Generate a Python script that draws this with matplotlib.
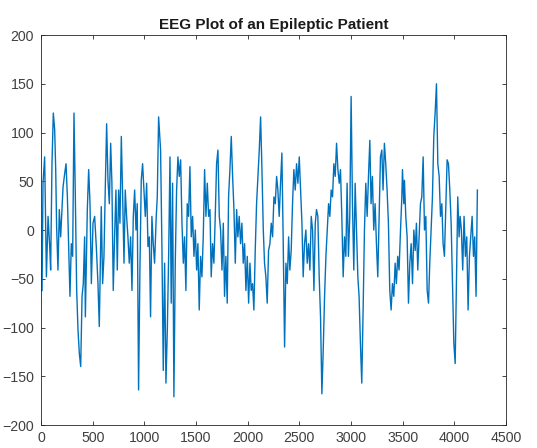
"""EEG trace of an epileptic patient, MATLAB-style single line plot."""

import matplotlib
matplotlib.use("Agg")
import matplotlib.pyplot as plt

# sample index and amplitude
t = [
    10, 19, 35, 52, 68, 84, 93, 106, 119, 132, 142, 151, 164, 177, 190, 213,
    229, 242, 255, 268, 280, 293, 306, 319, 332, 345, 358, 371, 384, 397, 409,
    422, 429, 448, 461, 474, 487, 503, 519, 535, 551, 564,
    583, 596, 609, 622, 635, 648, 661, 674, 686, 699, 712, 725, 738, 751, 764,
    777, 790, 803, 815, 828, 841, 854, 867, 880, 893, 906, 919, 931, 944, 957,
    970, 983, 996, 1009, 1022, 1035, 1048, 1060, 1073, 1086, 1099, 1115, 1125,
    1138, 1151,
    1157, 1170, 1183, 1196, 1209, 1222, 1235, 1248, 1260, 1273, 1286, 1299,
    1312, 1325, 1338, 1351, 1364, 1377, 1389, 1402, 1415, 1428, 1441, 1454,
    1467, 1480, 1493, 1506, 1518, 1531, 1544, 1557, 1570, 1583, 1596, 1609,
    1622, 1635, 1647, 1660, 1673, 1686, 1699, 1712, 1725,
    1738, 1751, 1764, 1776, 1789, 1802, 1815, 1828, 1841, 1854, 1867, 1880,
    1893, 1905, 1918, 1931, 1944, 1957, 1970, 1983, 1996, 2009, 2022, 2034,
    2047, 2060, 2073, 2086, 2099, 2112, 2125, 2138, 2151, 2163, 2176, 2189,
    2202, 2215, 2228, 2241, 2254, 2267, 2280, 2292, 2305,
    2318, 2331, 2344, 2357, 2370, 2383, 2396, 2408, 2421, 2434, 2447, 2460,
    2473, 2486, 2499, 2512, 2525, 2537, 2550, 2563, 2576, 2589, 2602, 2615,
    2628, 2641, 2654, 2666, 2679, 2692, 2705, 2718, 2731, 2744, 2757, 2770,
    2783, 2795, 2808, 2821, 2834, 2847, 2860, 2873, 2886,
    2898, 2911, 2924, 2937, 2950, 2962, 2975, 2988, 3001, 3014, 3027, 3040,
    3053, 3066, 3078, 3091, 3104, 3117, 3130, 3143, 3156, 3169, 3182, 3194,
    3207, 3220, 3233, 3246, 3259, 3272, 3285, 3298, 3310, 3323, 3336, 3349,
    3362, 3375, 3388, 3401, 3414, 3427, 3439, 3452, 3465,
    3479, 3492, 3498, 3511, 3517, 3530, 3543, 3556, 3569, 3582, 3595, 3608,
    3621, 3633, 3646, 3659, 3672, 3685, 3698, 3711, 3724, 3737, 3750, 3762,
    3775, 3788, 3801, 3814, 3827, 3840, 3853, 3866, 3879, 3891, 3904, 3917,
    3930, 3943, 3956, 3969, 3982, 3995, 4008, 4020, 4033, 4046,
    4056, 4068, 4081, 4094, 4107, 4120, 4133, 4146, 4159, 4172, 4185, 4197,
    4210, 4223,
]
eeg = [
    -62, 48, 75, -48, 14, -17, -41, 68, 120, 103, 62, 3, -41, 21, -7, 44,
    58, 68, 34, -17, -68, -14, -27, 120, 34, -62, -103, -127, -140, -68, -55,
    -7, -89, 21, 62, 27, -55, 7, 14, -17, -55, -99,
    24, -55, -27, 44, 109, 51, 27, 89, 48, -62, -7, 41, -41, 41, 7,
    96, 34, -34, 41, 14, -7, -34, -7, -62, 14, 41, 0, 27, -164, -41,
    51, 68, 41, 14, 48, -17, -7, -89, 14, -14, -34, 14, 34,
    116, 92,
    82, -17, -144, -34, -157, -103, -27, 75, -75, 48, -171, -34,
    41, 75, 55, 72, 7, -34, -7, -62, 27, 14, 65, -7,
    14, -27, 0, -41, -14, -82, -27, -48, -7, 62, 14, 48,
    14, 21, -48, -14, -34, 14, 68, 82, 14,
    0, -41, 7, -68, -27, -75, 34, 62, 96, 55, 21, -34,
    21, -7, 14, -14, 7, -34, -14, -62, -27, -75, -34, -62,
    -55, -82, -21, 27, 55, 82, 116, 62, 0, -34, -48, -75,
    -21, -14, 7, -7, 34, 27, 55, 41, 14,
    48, 79, -14, -120, -34, -55, -7, -41, -21, 27, 62, 41,
    68, 48, 75, 41, 7, -48, -14, 0, -34, -14, -41, 14,
    0, -62, 7, 21, 14, -48, -89, -168, -123, -68, -27, 0,
    27, 14, 41, 34, 68, 55, 89, 62, 48,
    62, 14, -48, -7, -27, 48, -27, 14, 137, 27, -41, 48,
    0, -48, -68, -116, -157, -82, 0, 48, 14, 55, 92, 27,
    55, 0, 27, -14, -48, 14, 75, 82, 41, 89, 68, 41,
    7, -62, -82, -55, -68, -34, -55, -27, -41,
    0, 34, 62, 27, 51, 14, -7, -75, -34, -14, -55, 0,
    -21, 7, -41, -7, 27, 34, 75, 0, 14, -62, -75, -34,
    0, 34, 96, 120, 150, 68, 55, 14, 27, -14, -27, 21,
    72, 68, 41, 7, -55, -116, -137, -55, 34, -7,
    14, 0, -41, 14, -27, -7, -82, -27, -7, 14, -27, -7,
    -68, 41,
]

X_TICKS = list(range(0, 4501, 500))
Y_TICKS = list(range(-200, 201, 50))
TITLE = "EEG Plot of an Epileptic Patient"

plt.rcParams["font.family"] = ["Liberation Sans", "DejaVu Sans"]

fig = plt.figure(figsize=(5.37, 4.48), dpi=100)
ax = fig.add_axes([0.0764, 0.0513, 0.8659, 0.8705])

ax.plot(t, eeg, color="#0072BD", linewidth=1.0)

ax.set_xlim(0, 4500)
ax.set_ylim(-200, 200)
ax.set_xticks(X_TICKS)
ax.set_yticks(Y_TICKS)

axis_grey = "#262626"
for side in ax.spines.values():
    side.set_color(axis_grey)
    side.set_linewidth(0.6)
ax.tick_params(direction="in", top=True, right=True, length=3, width=0.6,
               colors=axis_grey, labelcolor="#404040", labelsize=10.2)
ax.tick_params(axis="x", pad=4)
ax.tick_params(axis="y", pad=5)
ax.set_title(TITLE, fontsize=11, fontweight="bold", color="#1a1a1a", pad=4)

fig.savefig("out.png", dpi=100)
